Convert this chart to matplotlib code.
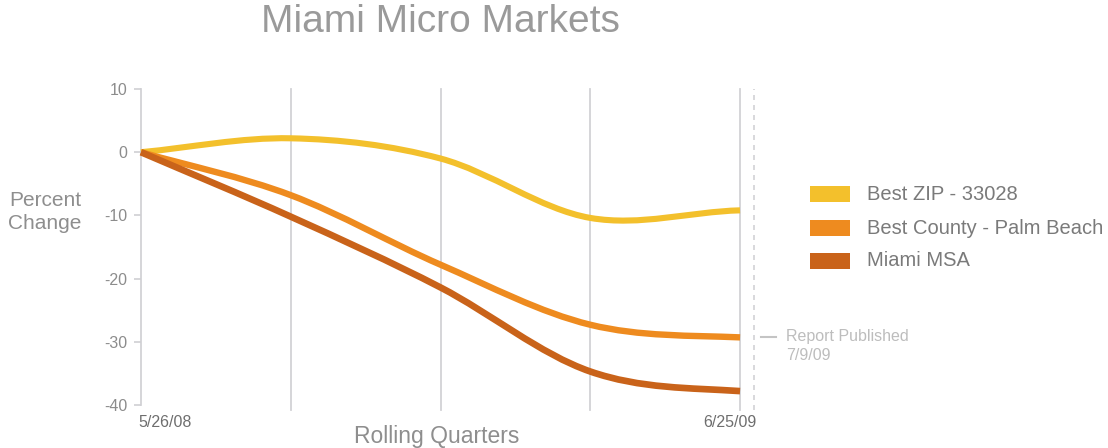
import numpy as np
import matplotlib
matplotlib.use("Agg")
import matplotlib.pyplot as plt
from matplotlib.path import Path
from matplotlib.patches import PathPatch, Rectangle

plt.rcParams['font.family'] = ['Liberation Sans', 'DejaVu Sans']

# ---- data ----
quarters = [0, 1, 2, 3, 4]
x_tick_labels = ["5/26/08", "6/25/09"]
series_names = ["Best ZIP - 33028", "Best County - Palm Beach", "Miami MSA"]
best_zip = [0, 2.2, -1.0, -10.4, -9.2]
best_county = [0, -6.8, -17.8, -27.3, -29.3]
miami_msa = [0, -10.2, -21.4, -34.7, -37.8]
y_ticks = [10, 0, -10, -20, -30, -40]
report_pos = 4.09
report_label = "Report Published\n7/9/09"

colors = ["#F3C02C", "#EE8B1F", "#C9631A"]
widths = [4.4, 4.6, 4.8]

fig = plt.figure(figsize=(11.08, 4.48), dpi=100)
fig.patch.set_facecolor("white")
ax = fig.add_axes([141/1108, 43/448, (770-141)/1108, 316/448])
ax.set_xlim(0, 4.2)
ax.set_ylim(-40, 10)
for s in ax.spines.values():
    s.set_visible(False)
ax.set_xticks([])
ax.set_yticks(y_ticks)
ax.tick_params(axis='y', length=5, width=1.2, color="#cfcfd3", labelcolor="#8c8c8c",
               labelsize=11.5, pad=5)
ax.set_yticklabels([str(v) for v in y_ticks])

grid_c = "#d2d2d6"
ax.plot([0, 0], [-40, 10], color=grid_c, lw=1.3, clip_on=False, zorder=1)
for q in quarters[1:]:
    ax.plot([q, q], [-40.8, 10], color=grid_c, lw=1.3, clip_on=False, zorder=1)
ax.plot([report_pos, report_pos], [-40.8, 10], color=grid_c, lw=1.2, ls=(0, (3, 3)),
        clip_on=False, zorder=1)


def smooth_path(xs, ys):
    xs = np.asarray(xs, float)
    ys = np.asarray(ys, float)
    n = len(xs)
    m = np.zeros(n)
    for i in range(n):
        if i == 0:
            m[i] = (ys[1] - ys[0]) / (xs[1] - xs[0])
        elif i == n - 1:
            m[i] = (ys[-1] - ys[-2]) / (xs[-1] - xs[-2]) * 0.5
        else:
            m[i] = (ys[i + 1] - ys[i - 1]) / (xs[i + 1] - xs[i - 1])
    verts = [(xs[0], ys[0])]
    codes = [Path.MOVETO]
    for i in range(n - 1):
        h = xs[i + 1] - xs[i]
        verts += [(xs[i] + h / 3, ys[i] + m[i] * h / 3),
                  (xs[i + 1] - h / 3, ys[i + 1] - m[i + 1] * h / 3),
                  (xs[i + 1], ys[i + 1])]
        codes += [Path.CURVE4] * 3
    return Path(verts, codes)


for vals, c, w in zip([best_zip, best_county, miami_msa], colors, widths):
    ax.add_patch(PathPatch(smooth_path(quarters, vals), facecolor="none", edgecolor=c,
                           lw=w, capstyle='butt', zorder=3, clip_on=False))

# x labels
ax.text(-0.02, -41.6, x_tick_labels[0], ha='left', va='top', fontsize=11.5, color="#6e6e6e")
ax.text(3.93, -41.6, x_tick_labels[1], ha='center', va='top', fontsize=11.5, color="#6e6e6e")
fig.text(437/1108, 1 - 436/448, "Rolling Quarters", ha='center', va='center',
         fontsize=16.5, color="#8e8e8e")
fig.text(45/1108, 1 - 212/448, "Percent\nChange", ha='center', va='center',
         multialignment='center', fontsize=15, color="#8e8e8e", linespacing=1.3)
fig.text(440/1108, 1 - 22/448, "Miami Micro Markets", ha='center', va='center',
         fontsize=28, color="#9a9a9a")

# report published annotation
ax.plot([4.14, 4.24], [-29.3, -29.3], color="#c4c4c4", lw=1.5, clip_on=False)
ax.text(4.31, -27.9, report_label, ha='left', va='top', fontsize=11.5, color="#bdbdbd",
        linespacing=1.35)

# legend
leg_y = [194, 228, 261]
for name, c, yy in zip(series_names, colors, leg_y):
    fig.patches.append(Rectangle((810/1108, 1 - (yy + 8)/448), 40/1108, 16/448,
                                 transform=fig.transFigure, facecolor=c, edgecolor='none'))
    fig.text(867/1108, 1 - yy/448, name, ha='left', va='center', fontsize=14.5,
             color="#7a7a7a")

fig.savefig("out.png", dpi=100, facecolor="white")
